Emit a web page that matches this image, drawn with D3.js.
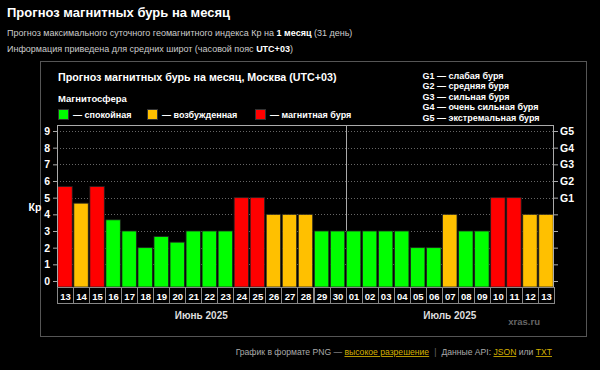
<!DOCTYPE html>
<html><head><meta charset="utf-8">
<script src="https://cdn.jsdelivr.net/npm/d3@7"></script>
<style>
html,body{margin:0;padding:0;background:#000;}
svg{display:block;font-family:"Liberation Sans",Arial,sans-serif;}
</style></head>
<body>
<svg id="c" width="600" height="370"></svg>
<script>
const days = ["13","14","15","16","17","18","19","20","21","22","23","24","25","26","27","28","29","30","01","02","03","04","05","06","07","08","09","10","11","12","13"];
const kp = [5.67,4.67,5.67,3.67,3,2,2.67,2.33,3,3,3,5,5,4,4,4,3,3,3,3,3,3,2,2,4,3,3,5,5,4,4];
const yTicks = [0,1,2,3,4,5,6,7,8,9];
const gTicks = [[5,"G1"],[6,"G2"],[7,"G3"],[8,"G4"],[9,"G5"]];
const gLegend = ["G1 — слабая буря","G2 — средняя буря","G3 — сильная буря","G4 — очень сильная буря","G5 — экстремальная буря"];
const legendItems = [["#00ff00","— спокойная"],["#ffc000","— возбужденная"],["#ff0000","— магнитная буря"]];
const months = [["Июнь 2025",0,18],["Июль 2025",18,31]];

const svg = d3.select("#c");
const color = v => v >= 5 ? "#ff0000" : (v >= 4 ? "#ffc000" : "#00ff00");

// Header
svg.append("text").attr("x",7).attr("y",17).attr("fill","#fff").attr("font-size",13).attr("font-weight","bold").text("Прогноз магнитных бурь на месяц");
const l2 = svg.append("text").attr("x",7).attr("y",36).attr("fill","#ccc").attr("font-size",9);
l2.append("tspan").text("Прогноз максимального суточного геомагнитного индекса Кр на ");
l2.append("tspan").attr("font-weight","bold").attr("fill","#fff").text("1 месяц");
l2.append("tspan").text(" (31 день)");
const l3 = svg.append("text").attr("x",7).attr("y",52).attr("fill","#ccc").attr("font-size",9);
l3.append("tspan").text("Информация приведена для средних широт (часовой пояс ");
l3.append("tspan").attr("font-weight","bold").attr("fill","#fff").text("UTC+03");
l3.append("tspan").text(")");

// Panel
svg.append("rect").attr("x",40.5).attr("y",61.5).attr("width",546).attr("height",275).attr("fill","#000").attr("stroke","#555");

svg.append("text").attr("x",58).attr("y",80.5).attr("fill","#fff").attr("font-size",10.7).attr("font-weight","bold").text("Прогноз магнитных бурь на месяц, Москва (UTC+03)");
svg.append("text").attr("x",58).attr("y",101.5).attr("fill","#fff").attr("font-size",9.5).attr("font-weight","bold").text("Магнитосфера");
const lgX = [58,147,255];
legendItems.forEach((d,i)=>{
  svg.append("rect").attr("x",lgX[i]+0.5).attr("y",109.5).attr("width",10).attr("height",10).attr("fill",d[0]).attr("stroke","#333");
  svg.append("text").attr("x",lgX[i]+15).attr("y",118).attr("fill","#fff").attr("font-size",9).attr("font-weight","bold").text(d[1]);
});
gLegend.forEach((t,i)=>{
  svg.append("text").attr("x",422.5).attr("y",78.5 + i*10.5).attr("fill","#fff").attr("font-size",9).attr("font-weight","bold").text(t);
});

// Plot
const pLeft = 57, pRight = 554, pTop = 125, pBottom = 287;
const x = d3.scaleBand().domain(d3.range(days.length)).range([pLeft,pRight]).paddingInner(0.1).paddingOuter(0.05);
const y = d3.scaleLinear().domain([0,9]).range([281,131]);

// gridlines
svg.append("g").selectAll("line").data(yTicks.filter(t=>t>0)).join("line")
  .attr("x1",pLeft).attr("x2",pRight).attr("y1",d=>Math.round(y(d))+0.5).attr("y2",d=>Math.round(y(d))+0.5)
  .attr("stroke","#666").attr("stroke-dasharray","1,2");

// separator line between months
const sepX = Math.round(pLeft + (pRight-pLeft)*18/31)+0.5;
svg.append("line").attr("x1",sepX).attr("x2",sepX).attr("y1",pTop).attr("y2",pBottom).attr("stroke","#aaa");

// bars
svg.append("g").selectAll("rect").data(kp).join("rect")
  .attr("x",(d,i)=>x(i)).attr("width",x.bandwidth())
  .attr("y",d=>y(d)).attr("height",d=>pBottom - y(d))
  .attr("fill",d=>color(d)).attr("stroke","#222").attr("stroke-width",0.8);

// plot frame
svg.append("rect").attr("x",pLeft+0.5).attr("y",pTop+0.5).attr("width",pRight-pLeft-1).attr("height",pBottom-pTop).attr("fill","none").attr("stroke","#aaa");

// left axis
const ya = svg.append("g").attr("transform",`translate(${pLeft},0)`)
  .call(d3.axisLeft(y).tickValues(yTicks).tickSize(4).tickPadding(3).tickFormat(d3.format("d")));
ya.select(".domain").remove();
ya.selectAll("line").attr("stroke","#aaa");
ya.selectAll("text").attr("fill","#fff").attr("font-size",10.5).attr("font-weight","bold").attr("font-family","Liberation Sans, Arial, sans-serif");

// right axis
const gMap = new Map(gTicks);
const yr = svg.append("g").attr("transform",`translate(${pRight},0)`)
  .call(d3.axisRight(y).tickValues(yTicks).tickSize(4).tickPadding(2).tickFormat(d=>gMap.get(d)||""));
yr.select(".domain").remove();
yr.selectAll("line").attr("stroke","#aaa");
yr.selectAll("text").attr("fill","#fff").attr("font-size",10.5).attr("font-weight","bold").attr("font-family","Liberation Sans, Arial, sans-serif");

svg.append("text").attr("x",35).attr("y",211).attr("text-anchor","middle").attr("fill","#fff").attr("font-size",10.5).attr("font-weight","bold").text("Кр");

// day label boxes
const step = (pRight-pLeft)/days.length;
const dl = svg.append("g");
days.forEach((d,i)=>{
  const bx = pLeft + i*step;
  dl.append("rect").attr("x",Math.round(bx)+0.5).attr("y",pBottom+0.5).attr("width",Math.round(step)).attr("height",16).attr("fill","#000").attr("stroke","#888");
  dl.append("text").attr("x",bx+step/2+0.5).attr("y",pBottom+12.5).attr("text-anchor","middle").attr("fill","#fff").attr("font-size",9.5).attr("font-weight","bold").text(d);
});

// month labels
months.forEach(m=>{
  const cx = pLeft + (m[1]+m[2])/2*step;
  svg.append("text").attr("x",cx).attr("y",319).attr("text-anchor","middle").attr("fill","#ddd").attr("font-size",10).attr("font-weight","bold").text(m[0]);
});

svg.append("text").attr("x",540).attr("y",325).attr("text-anchor","end").attr("fill","#666").attr("font-size",9.5).attr("font-weight","bold").text("xras.ru");

// footer
const ft = svg.append("text").attr("x",552).attr("y",355).attr("text-anchor","end").attr("font-size",8.6).attr("fill","#aaa");
ft.append("tspan").text("График в формате PNG — ");
ft.append("tspan").attr("fill","#d4b000").attr("text-decoration","underline").text("высокое разрешение");
ft.append("tspan").attr("fill","#666").attr("dx",5).text("|");
ft.append("tspan").attr("dx",5).text("Данные API: ");
ft.append("tspan").attr("fill","#d4b000").attr("text-decoration","underline").text("JSON");
ft.append("tspan").text(" или ");
ft.append("tspan").attr("fill","#d4b000").attr("text-decoration","underline").text("TXT");
</script>
</body></html>
